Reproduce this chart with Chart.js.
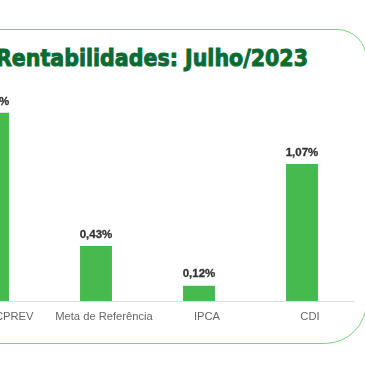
<!DOCTYPE html>
<html><head><meta charset="utf-8">
<script src="https://cdn.jsdelivr.net/npm/chart.js@4"></script>
<style>
html,body{margin:0;padding:0;background:#fff;overflow:hidden;width:365px;height:365px;}
#frame{position:absolute;left:-40px;top:28.5px;width:407px;height:315px;border:1.5px solid #7dd67d;border-radius:0 30px 42px 0;box-sizing:border-box;}
#title{position:absolute;left:-4px;top:44px;font-family:"DejaVu Sans",sans-serif;font-weight:bold;font-size:23px;line-height:28px;color:#0c6a33;white-space:nowrap;transform-origin:0 0;-webkit-text-stroke:1px #0c6a33;}
#wrap{position:absolute;left:-70px;top:0;width:440px;height:365px;}
</style></head><body>
<div id="frame"></div>
<div id="title">Rentabilidades: Julho/2023</div>
<div id="wrap"><canvas id="c"></canvas></div>
<script>
const categories = ["IPAMCPREV", "Meta de Referência", "IPCA", "CDI"];
const values = [1.47, 0.43, 0.12, 1.07];
const valueLabels = ["1,47%", "0,43%", "0,12%", "1,07%"];

// fit title width
const t = document.getElementById('title');
const tw = t.getBoundingClientRect().width;
t.style.transform = 'scaleX(' + (312 / tw) + ')';

const labelPlugin = {
  id: 'valLabels',
  afterDatasetsDraw(chart) {
    const ctx = chart.ctx;
    const meta = chart.getDatasetMeta(0);
    ctx.save();
    ctx.font = 'bold 11.5px "Liberation Sans", Arial, sans-serif';
    ctx.fillStyle = '#333';
    ctx.strokeStyle = '#333';
    ctx.lineWidth = 0.3;
    ctx.textAlign = 'center';
    ctx.textBaseline = 'middle';
    meta.data.forEach((bar, i) => {
      ctx.fillText(valueLabels[i], bar.x, bar.y - 11.5);
      ctx.strokeText(valueLabels[i], bar.x, bar.y - 11.5);
    });
    ctx.restore();
  }
};

new Chart(document.getElementById('c'), {
  type: 'bar',
  data: {
    labels: categories,
    datasets: [{
      data: values,
      backgroundColor: '#46b94f',
      borderWidth: 0,
      barPercentage: 0.31,
      categoryPercentage: 1.0
    }]
  },
  options: {
    responsive: true,
    maintainAspectRatio: false,
    animation: false,
    layout: { padding: { left: 11.5, right: 16.5, top: 83.4, bottom: 34 } },
    plugins: { legend: { display: false }, tooltip: { enabled: false }, title: { display: false } },
    scales: {
      x: {
        grid: { display: false, drawTicks: false },
        border: { display: true, color: '#dddddd', width: 1 },
        ticks: { color: '#666', padding: 9, labelOffset: 8, maxRotation: 0, minRotation: 0, autoSkip: false, font: { size: 11.2, family: '"Liberation Sans", Arial, sans-serif' } },
        afterFit(scale) { scale.height = 30; }
      },
      y: {
        display: false,
        min: 0,
        max: 1.7
      }
    }
  },
  plugins: [labelPlugin]
});
</script>
</body></html>
